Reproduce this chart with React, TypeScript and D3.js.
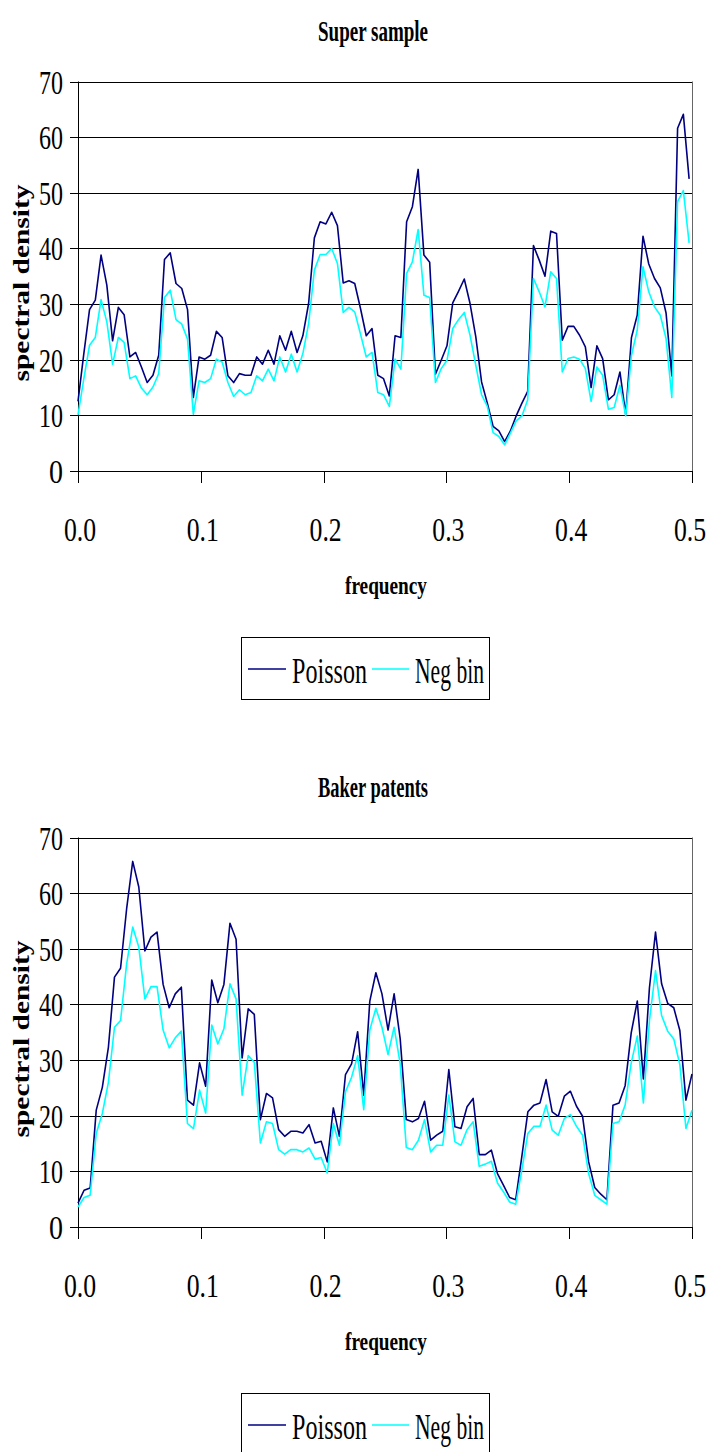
import React from "react";
import * as d3 from "d3";

// periodogram ordinates, one value per Fourier frequency
const superPoisson = [
  12.5, 21, 29.0, 30.7, 38.8, 33.4, 23.4, 29.4, 28.1, 20.5, 21.3, 18.7, 15.9, 17.2, 20.8, 38.0, 39.2, 33.7, 32.8, 29.0,
  13.2, 20.5, 20.1, 20.8, 25.1, 24.0, 17.1, 15.9, 17.5, 17.2, 17.2, 20.5, 19.2, 21.7, 19.2, 24.3, 21.7, 25.1, 21.3, 24.3,
  30.1, 41.9, 44.8, 44.4, 46.5, 44.1, 33.8, 34.2, 33.7, 29.2, 24.3, 25.6, 17.2, 16.6, 13.5, 24.3, 24.0, 44.8, 47.5, 54.2,
  38.8, 37.5, 17.4, 19.9, 22.5, 30.2, 32.3, 34.5, 30.1, 24.1, 16.0, 12.2, 8.0, 7.2, 5.3, 7.2, 9.9, 12.2, 14.3, 40.5,
  37.9, 35.0, 43.1, 42.7, 23.5, 26.0, 26.0, 24.4, 22.3, 15.0, 22.5, 20.2, 12.8, 13.7, 17.8, 10.2, 24.0, 28.0, 42.2, 37.2,
  34.6, 32.9, 28.4, 17.1, 61.6, 64.1, 52.5,
];
const superNegbin = [
  10.1, 16.5, 22.6, 24.0, 30.8, 26.8, 19.2, 24.0, 23.1, 16.6, 17.1, 14.9, 13.7, 15.1, 17.5, 31.2, 32.5, 27.2, 26.4, 23.7,
  10.2, 16.2, 15.9, 16.6, 20.1, 19.6, 15.9, 13.4, 14.6, 13.7, 14.1, 17.1, 16.2, 18.3, 16.2, 20.5, 17.8, 21.0, 17.8, 21.1,
  26.5, 36.1, 38.9, 38.9, 40.0, 37.3, 28.5, 29.4, 28.6, 24.6, 20.5, 21.3, 14.1, 13.7, 11.6, 20.1, 18.3, 35.5, 37.6, 43.4,
  31.6, 31.2, 15.9, 18.4, 19.9, 25.6, 27.2, 28.5, 24.4, 19.0, 13.7, 11.6, 6.9, 6.2, 4.7, 6.8, 9.0, 9.9, 12.8, 34.6,
  32.2, 29.5, 35.8, 34.6, 17.8, 20.2, 20.5, 20.1, 18.4, 12.5, 18.7, 17.2, 11.1, 11.4, 15.4, 9.9, 20.8, 25.3, 36.7, 32.2,
  29.5, 28.0, 23.8, 13.2, 48.4, 50.4, 41.0,
];
const bakerPoisson = [
  4.3, 6.6, 7.0, 21.0, 25.1, 32.3, 44.9, 46.5, 57.2, 65.7, 61.1, 49.6, 52.1, 53.0, 43.6, 39.4, 41.9, 43.1, 22.8, 21.9,
  29.5, 25.3, 44.4, 40.3, 43.6, 54.6, 51.7, 30.4, 39.2, 38.2, 19.3, 24.0, 23.2, 17.5, 16.3, 17.2, 17.2, 16.9, 18.4, 15.1,
  15.4, 11.7, 21.4, 16.3, 27.4, 29.3, 35.1, 23.7, 40.6, 45.7, 41.9, 35.4, 41.9, 33.8, 19.3, 18.9, 19.5, 22.6, 15.6, 16.5,
  17.2, 28.3, 18.0, 17.7, 21.6, 23.1, 13.0, 13.0, 13.8, 9.6, 7.5, 5.3, 4.9, 12.6, 20.7, 21.9, 22.3, 26.5, 20.7, 19.9,
  23.5, 24.4, 21.7, 19.9, 11.7, 7.1, 5.9, 4.9, 21.9, 22.3, 25.4, 34.9, 40.6, 26.6, 43.0, 53.0, 43.7, 40.2, 39.4, 35.3,
  22.8, 27.5,
];
const bakerNegbin = [
  3.6, 5.3, 5.7, 16.8, 20.4, 26.0, 35.9, 37.1, 47.3, 53.9, 50.3, 41.0, 43.2, 43.2, 35.4, 32.2, 34.0, 35.2, 18.6, 17.7,
  24.6, 20.5, 36.3, 32.9, 35.6, 43.7, 41.0, 23.7, 30.8, 29.6, 15.1, 18.9, 18.6, 13.9, 13.1, 13.9, 13.9, 13.5, 14.2, 12.2,
  12.5, 9.7, 18.6, 14.7, 24.3, 26.9, 30.8, 21.1, 35.4, 39.3, 35.9, 31.0, 35.9, 29.3, 14.3, 13.9, 15.6, 19.3, 13.5, 14.7,
  14.7, 23.7, 15.3, 14.7, 17.5, 18.9, 10.9, 11.3, 11.8, 7.9, 6.3, 4.5, 4.1, 10.2, 16.8, 18.1, 18.1, 21.9, 17.4, 16.5,
  19.5, 20.2, 18.1, 16.5, 9.6, 5.7, 4.9, 4.1, 18.6, 18.9, 21.9, 29.5, 34.3, 22.3, 37.1, 46.1, 38.0, 35.2, 33.8, 29.2,
  17.7, 21.0,
];
// length of the underlying series, frequency of point i is i / n
const superN = 213;
const bakerN = 202;

const yTickValues = [0, 10, 20, 30, 40, 50, 60, 70];
const xTickValues = [0, 0.1, 0.2, 0.3, 0.4, 0.5];
const xTickLabels = ["0.0", "0.1", "0.2", "0.3", "0.4", "0.5"];
const seriesNames = ["Poisson", "Neg bin"];
const seriesColors = ["#000080", "#00FFFF"];

const FONT = "'Liberation Serif', 'Times New Roman', serif";
const PANEL_H = 756;

function Panel({ title, poisson, negbin, n, offsetY }) {
  const x = d3.scaleLinear().domain([0, 0.5]).range([78, 692]);
  const y = d3.scaleLinear().domain([0, 70]).range([471, 81.5]);
  const line = d3
    .line<number>()
    .x((d, i) => x(i / n))
    .y((d) => y(d));
  const px = (v) => Math.round(v) + 0.5;

  return (
    <g transform={`translate(0, ${offsetY})`}>
      <text x={373} y={41} textAnchor="middle" fontFamily={FONT} fontWeight="bold" fontSize={29}
        textLength={110} lengthAdjust="spacingAndGlyphs">{title}</text>

      {yTickValues.map((t) => (
        <g key={t}>
          <line x1={70} x2={692} y1={px(y(t))} y2={px(y(t))} stroke="#000" strokeWidth={1} />
          <text x={63} y={y(t) + 12} textAnchor="end" fontFamily={FONT} fontSize={34}
            textLength={t === 0 ? 14 : 24} lengthAdjust="spacingAndGlyphs">{t}</text>
        </g>
      ))}
      <line x1={px(692)} x2={px(692)} y1={y(70)} y2={y(0)} stroke="#666" strokeWidth={1} />
      <line x1={px(78)} x2={px(78)} y1={y(70)} y2={y(0) + 12} stroke="#000" strokeWidth={1} />

      {xTickValues.map((t, i) => (
        <g key={t}>
          <line x1={px(x(t))} x2={px(x(t))} y1={y(0)} y2={y(0) + 12} stroke="#000" strokeWidth={1} />
          <text
            transform={`translate(${i === xTickValues.length - 1 ? x(t) - 2 : x(t) + 2}, 541) scale(0.78, 1)`}
            textAnchor="middle" fontFamily={FONT} fontSize={33}>
            {xTickLabels[i]}
          </text>
        </g>
      ))}

      <path d={line(poisson)} fill="none" stroke={seriesColors[0]} strokeWidth={1.6} strokeLinejoin="round" />
      <path d={line(negbin)} fill="none" stroke={seriesColors[1]} strokeWidth={1.6} strokeLinejoin="round" />

      <text transform="translate(29, 283) rotate(-90)" textAnchor="middle" fontFamily={FONT} fontWeight="bold"
        fontSize={24} textLength={197} lengthAdjust="spacingAndGlyphs">spectral density</text>
      <text x={386} y={594} textAnchor="middle" fontFamily={FONT} fontWeight="bold" fontSize={25}
        textLength={82} lengthAdjust="spacingAndGlyphs">frequency</text>

      <rect x={241.5} y={637.5} width={248} height={62} fill="#fff" stroke="#000" strokeWidth={1} />
      <line x1={248} x2={286} y1={669} y2={669} stroke={seriesColors[0]} strokeWidth={1.6} />
      <text x={292} y={683} fontFamily={FONT} fontSize={36} textLength={75} lengthAdjust="spacingAndGlyphs">
        {seriesNames[0]}
      </text>
      <line x1={372} x2={409} y1={669} y2={669} stroke={seriesColors[1]} strokeWidth={1.6} />
      <text x={415} y={683} fontFamily={FONT} fontSize={36} textLength={69} lengthAdjust="spacingAndGlyphs">
        {seriesNames[1]}
      </text>
    </g>
  );
}

export default function App() {
  return (
    <svg width={713} height={1452} style={{ position: "absolute", left: 0, top: 0, background: "#fff" }}>
      <rect width={713} height={1452} fill="#fff" />
      <Panel title="Super sample" poisson={superPoisson} negbin={superNegbin} n={superN} offsetY={0} />
      <Panel title="Baker patents" poisson={bakerPoisson} negbin={bakerNegbin} n={bakerN} offsetY={PANEL_H} />
    </svg>
  );
}
